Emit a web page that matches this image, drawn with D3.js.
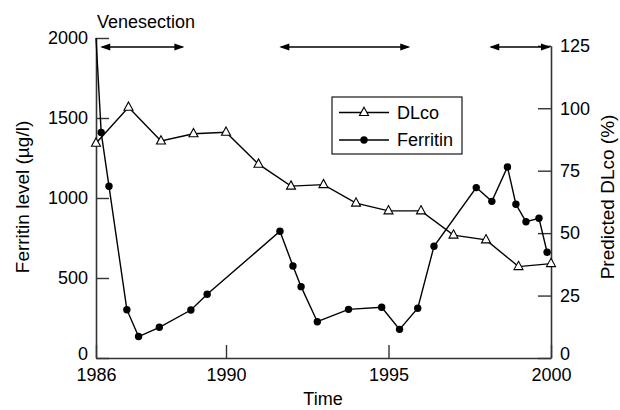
<!DOCTYPE html>
<html>
<head>
<meta charset="utf-8">
<script src="https://cdn.jsdelivr.net/npm/d3@7"></script>
<style>
  html, body { margin: 0; padding: 0; background: #fff; }
  svg text { font-family: "Liberation Sans", Arial, sans-serif; fill: #000; }
</style>
</head>
<body>
<svg id="chart" width="620" height="410"></svg>
<script>
// ---- data ----
const dlcoYears = [1986, 1987, 1988, 1989, 1990, 1991, 1992, 1993, 1994, 1995, 1996, 1997, 1998, 1999, 2000];
const dlcoValues = [86, 100.4, 86.9, 89.8, 90.4, 77.6, 68.8, 69.4, 62, 58.9, 58.9, 49.2, 47.3, 36.6, 37.8];

const ferritinYears = [1986.0, 1986.16, 1986.4, 1986.95, 1987.31, 1987.95, 1988.92, 1989.42, 1991.66, 1992.06, 1992.31, 1992.81,
  1993.77, 1994.79, 1995.34, 1995.9, 1996.4, 1997.7, 1998.18, 1998.66, 1998.92, 1999.23, 1999.63, 1999.88];
const ferritinValues = [2000, 1409, 1073, 302, 134, 192, 300, 398, 792, 575, 446, 227,
  304, 317, 179, 311, 698, 1065, 979, 1194, 961, 852, 873, 661];

const venesectionStart = [1986.13, 1991.64, 1998.1];
const venesectionEnd = [1988.72, 1995.67, 2000];

const xTicks = [1986, 1990, 1995, 2000];
const leftTicks = [0, 500, 1000, 1500, 2000];
const rightTicks = [0, 25, 50, 75, 100, 125];

// ---- layout ----
const svg = d3.select("#chart");
const x = d3.scaleLinear().domain([1986, 2000]).range([96, 551]);
const yL = d3.scaleLinear().domain([0, 2000]).range([358, 38]);
const yR = d3.scaleLinear().domain([0, 125]).range([358, 45.8]);

const axisColor = "#333";
const fontSize = 18;

function styleAxis(g) {
  g.selectAll("path.domain").attr("stroke", axisColor).attr("stroke-width", 1.6);
  g.selectAll(".tick line").attr("stroke", axisColor).attr("stroke-width", 1.4);
  g.selectAll(".tick text").attr("font-size", fontSize).attr("fill", "#000")
    .style("font-family", '"Liberation Sans", Arial, sans-serif');
}

// Left axis
const gL = svg.append("g").attr("transform", "translate(96,0)")
  .call(d3.axisLeft(yL).tickValues(leftTicks).tickFormat(d3.format("d"))
    .tickSizeInner(-13).tickSizeOuter(0).tickPadding(8))
  .call(styleAxis);
gL.selectAll(".tick text").filter(d => d === 0).attr("dy", "0.08em");

// Right axis
const gR = svg.append("g").attr("transform", "translate(551,0)")
  .call(d3.axisRight(yR).tickValues(rightTicks).tickFormat(d3.format("d"))
    .tickSizeInner(-13).tickSizeOuter(0).tickPadding(9))
  .call(styleAxis);
gR.selectAll(".tick text").filter(d => d === 0).attr("dy", "0.08em");

// Bottom axis
svg.append("g").attr("transform", "translate(0,358)")
  .call(d3.axisBottom(x).tickValues(xTicks).tickFormat(d3.format("d"))
    .tickSizeInner(-13).tickSizeOuter(0).tickPadding(10))
  .call(styleAxis);

// Axis titles
svg.append("text").attr("x", 323).attr("y", 405).attr("text-anchor", "middle")
  .attr("font-size", fontSize).text("Time");
svg.append("text").attr("transform", "translate(29,197) rotate(-90)")
  .attr("text-anchor", "middle").attr("font-size", 19).text("Ferritin level (µg/l)");
svg.append("text").attr("transform", "translate(614,197) rotate(-90)")
  .attr("text-anchor", "middle").attr("font-size", 19).text("Predicted DLco (%)");

// Venesection label and arrows
svg.append("text").attr("x", 97).attr("y", 28).attr("font-size", fontSize).text("Venesection");
const arrowY = 47;
const headL = 10, headW = 3.5;
const arrows = svg.append("g");
venesectionStart.forEach((s, i) => {
  const x0 = x(s), x1 = x(venesectionEnd[i]);
  arrows.append("line").attr("x1", x0 + 2).attr("x2", x1 - 2).attr("y1", arrowY).attr("y2", arrowY)
    .attr("stroke", "#000").attr("stroke-width", 1.3);
  arrows.append("path").attr("d", `M${x0},${arrowY}L${x0 + headL},${arrowY - headW}L${x0 + headL},${arrowY + headW}Z`).attr("fill", "#000");
  arrows.append("path").attr("d", `M${x1},${arrowY}L${x1 - headL},${arrowY - headW}L${x1 - headL},${arrowY + headW}Z`).attr("fill", "#000");
});

// Ferritin line
const ferritin = ferritinYears.map((d, i) => ({ x: d, y: ferritinValues[i] }));
svg.append("path").datum(ferritin)
  .attr("d", d3.line().x(d => x(d.x)).y(d => yL(d.y)))
  .attr("fill", "none").attr("stroke", "#000").attr("stroke-width", 1.4);
svg.append("g").selectAll("circle").data(ferritin.slice(1)).join("circle")
  .attr("cx", d => x(d.x)).attr("cy", d => yL(d.y)).attr("r", 3.7).attr("fill", "#000");

// DLco line
const dlco = dlcoYears.map((d, i) => ({ x: d, y: dlcoValues[i] }));
svg.append("path").datum(dlco)
  .attr("d", d3.line().x(d => x(d.x)).y(d => yR(d.y)))
  .attr("fill", "none").attr("stroke", "#000").attr("stroke-width", 1.4);
const tri = (cx, cy) => `M${cx},${cy - 5.3}L${cx + 4.5},${cy + 3}L${cx - 4.5},${cy + 3}Z`;
svg.append("g").selectAll("path").data(dlco).join("path")
  .attr("d", d => tri(x(d.x), yR(d.y)))
  .attr("fill", "#fff").attr("stroke", "#000").attr("stroke-width", 1.1);

// Legend
const lg = svg.append("g");
lg.append("rect").attr("x", 332).attr("y", 97).attr("width", 130).attr("height", 57)
  .attr("fill", "#fff").attr("stroke", "#000").attr("stroke-width", 1.1);
const legendItems = ["DLco", "Ferritin"];
const legendY = [112.5, 140];
legendItems.forEach((name, i) => {
  const yy = legendY[i];
  lg.append("line").attr("x1", 339).attr("x2", 389).attr("y1", yy).attr("y2", yy)
    .attr("stroke", "#000").attr("stroke-width", 1.3);
  if (i === 0) {
    lg.append("path").attr("d", tri(364, yy)).attr("fill", "#fff").attr("stroke", "#000").attr("stroke-width", 1.1);
  } else {
    lg.append("circle").attr("cx", 364).attr("cy", yy).attr("r", 3.7).attr("fill", "#000");
  }
  lg.append("text").attr("x", 397).attr("y", yy).attr("dy", "0.36em").attr("font-size", fontSize).text(name);
});
</script>
</body>
</html>
